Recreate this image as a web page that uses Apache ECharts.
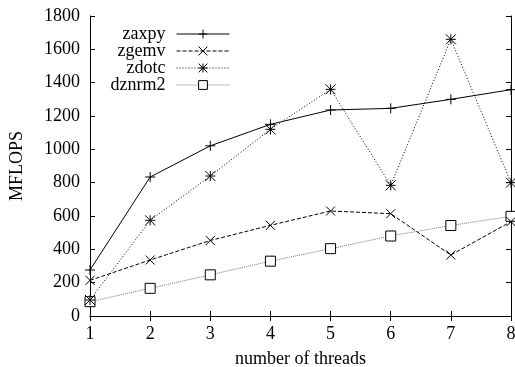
<!DOCTYPE html>
<html>
<head>
<meta charset="utf-8">
<script src="https://cdn.jsdelivr.net/npm/echarts@6/dist/echarts.min.js"></script>
<style>
	html, body { margin: 0; padding: 0; background: #fff; }
	#chart { width: 515px; height: 367px; }
</style>
</head>
<body>
<div id="chart"></div>
<script>
var threads = ['1', '2', '3', '4', '5', '6', '7', '8'];
var zaxpy = [276, 834, 1021, 1150, 1236, 1246, 1300, 1358];
var zgemv = [214, 336, 453, 544, 630, 614, 366, 566];
var zdotc = [96, 574, 840, 1120, 1360, 784, 1660, 800];
var dznrm2 = [86, 166, 247, 329, 404, 480, 543, 598];
var yTicks = { min: 0, max: 1800, step: 200 };

var font = 'Liberation Serif';
var fontSize = 18;
var plusPath = 'path://M0,5L10,5M5,0L5,10';
var crossPath = 'path://M0,0L10,10M0,10L10,0';
var starPath = 'path://M0,0L10,10M0,10L10,0M5,0L5,10M0,5L10,5';
var boxPath = 'path://M0,0L10,0L10,10L0,10Z';

function makeSeries(name, data, symbol, size, dash, lineColor, fill)
{
	return {
		name: name,
		type: 'line',
		data: data,
		symbol: symbol,
		symbolSize: size,
		showAllSymbol: true,
		clip: false,
		z: fill ? 1 : 2,
		itemStyle: {
			color: fill || '#000',
			borderColor: '#000',
			borderWidth: 1
		},
		lineStyle: {
			color: lineColor,
			width: 1,
			type: dash
		},
		emphasis: { disabled: true }
	};
}

// one legend per entry so the samples line up on the right like gnuplot's key
function makeLegend(name, top)
{
	return {
		data: [name],
		orient: 'vertical',
		align: 'right',
		right: 285,
		top: top,
		padding: 0,
		itemWidth: 53,
		itemHeight: 11,
		selectedMode: false,
		lineStyle: { width: 1 },
		itemStyle: { borderWidth: 1 },
		textStyle: {
			fontFamily: font,
			fontSize: fontSize,
			color: '#000',
			padding: [0, 6, 0, 0]
		}
	};
}

var dom = document.getElementById('chart');
var myChart = echarts.init(dom);
var option = null;

var axisLineStyle = { lineStyle: { color: '#000', width: 1 } };
var tickStyle = { inside: true, length: 5, lineStyle: { color: '#000' } };

option = {
	backgroundColor: '#fff',
	animation: false,
	grid: { left: 90, right: 4, top: 16, bottom: 51, outerBoundsMode: 'none' },
	legend: [
		makeLegend('zaxpy', 25),
		makeLegend('zgemv', 42),
		makeLegend('zdotc', 59),
		makeLegend('dznrm2', 76)
	],
	xAxis: [
		{
			type: 'category',
			data: threads,
			boundaryGap: false,
			name: 'number of threads',
			nameLocation: 'middle',
			nameGap: 34,
			nameTextStyle: { fontFamily: font, fontSize: fontSize, color: '#000' },
			axisLine: axisLineStyle,
			axisTick: tickStyle,
			axisLabel: { fontFamily: font, fontSize: fontSize, color: '#000', margin: 9 },
			splitLine: { show: false }
		},
		{
			type: 'category',
			data: threads,
			boundaryGap: false,
			position: 'top',
			axisLine: axisLineStyle,
			axisTick: tickStyle,
			axisLabel: { show: false },
			splitLine: { show: false }
		}
	],
	yAxis: [
		{
			type: 'value',
			min: yTicks.min,
			max: yTicks.max,
			interval: yTicks.step,
			name: 'MFLOPS',
			nameLocation: 'middle',
			nameGap: 64,
			nameTextStyle: { fontFamily: font, fontSize: fontSize, color: '#000' },
			axisLine: { show: true, lineStyle: { color: '#000', width: 1 } },
			axisTick: { show: true, inside: true, length: 5, lineStyle: { color: '#000' } },
			axisLabel: {
				fontFamily: font,
				fontSize: fontSize,
				color: '#000',
				margin: 10,
				formatter: function (v) { return String(v); }
			},
			splitLine: { show: false }
		},
		{
			type: 'value',
			min: yTicks.min,
			max: yTicks.max,
			interval: yTicks.step,
			position: 'right',
			axisLine: { show: true, lineStyle: { color: '#000', width: 1 } },
			axisTick: { show: true, inside: true, length: 5, lineStyle: { color: '#000' } },
			axisLabel: { show: false },
			splitLine: { show: false }
		}
	],
	series: [
		makeSeries('zaxpy', zaxpy, plusPath, 10, 'solid', '#000'),
		makeSeries('zgemv', zgemv, crossPath, 9, [4, 2], '#000'),
		makeSeries('zdotc', zdotc, starPath, 10, [1, 2], '#000'),
		makeSeries('dznrm2', dznrm2, boxPath, 10, [1, 1], '#777', '#fff')
	]
};

if (option && typeof option === "object") {
	myChart.setOption(option, true);
}
</script>
</body>
</html>
